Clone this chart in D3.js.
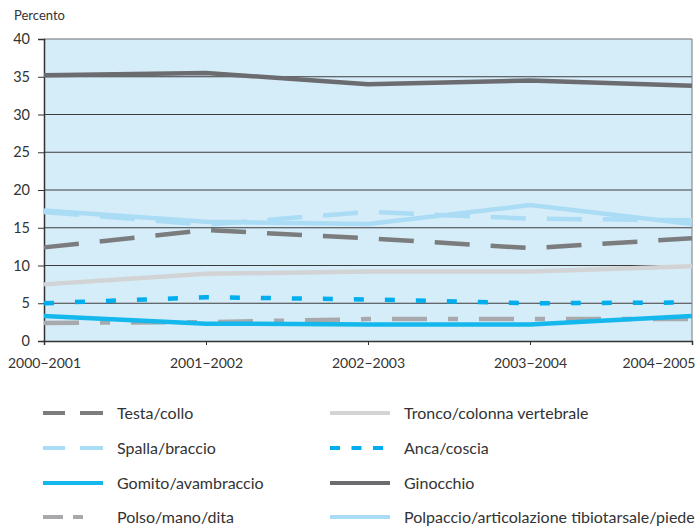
<!DOCTYPE html>
<html>
<head>
<meta charset="utf-8">
<script src="https://cdn.jsdelivr.net/npm/d3@7"></script>
<style>
  body { margin: 0; background: #fff; }
  svg text { font-family: Lato, "Open Sans", sans-serif; fill: #333; }
</style>
</head>
<body>
<svg id="chart" width="695" height="526"></svg>
<script>
const years = ['2000\u22122001', '2001\u22122002', '2002\u22122003', '2003\u22122004', '2004\u22122005'];
const yTicks = [0, 5, 10, 15, 20, 25, 30, 35, 40];

const testaCollo    = [12.4, 14.7, 13.6, 12.3, 13.6];
const spallaBraccio = [17.1, 15.4, 17.1, 16.2, 16.0];
const gomito        = [3.3, 2.3, 2.2, 2.2, 3.3];
const polso         = [2.4, 2.5, 2.9, 2.9, 2.9];
const tronco        = [7.5, 8.9, 9.2, 9.2, 9.9];
const anca          = [5.0, 5.8, 5.5, 5.0, 5.1];
const ginocchio     = [35.2, 35.5, 34.0, 34.5, 33.8];
const polpaccio     = [17.3, 15.8, 15.5, 18.0, 15.5];

const series = [
  { name: 'Testa/collo', values: testaCollo, color: '#7b7c7e', dash: '35,21', legDash: '22,15,23,100' },
  { name: 'Tronco/colonna vertebrale', values: tronco, color: '#d2d3d5', dash: null, legDash: null },
  { name: 'Spalla/braccio', values: spallaBraccio, color: '#abdcf5', dash: '35,21', legDash: '22,15,23,100' },
  { name: 'Anca/coscia', values: anca, color: '#00aeef', dash: '10,21', legDash: '10,11.5' },
  { name: 'Gomito/avambraccio', values: gomito, color: '#15b8ec', dash: null, legDash: null },
  { name: 'Ginocchio', values: ginocchio, color: '#6b6c6f', dash: null, legDash: null },
  { name: 'Polso/mano/dita', values: polso, color: '#a7a9ac', dash: '35,21,10,21', legDash: '20,10,10,100' },
  { name: 'Polpaccio/articolazione tibiotarsale/piede', values: polpaccio, color: '#abdcf5', dash: null, legDash: null }
];
// draw order (back to front)
const drawOrder = ['Tronco/colonna vertebrale', 'Polso/mano/dita', 'Gomito/avambraccio', 'Anca/coscia',
  'Testa/collo', 'Spalla/braccio', 'Polpaccio/articolazione tibiotarsale/piede', 'Ginocchio'];
const legendRows = [413, 448, 483, 517];

const svg = d3.select('#chart');
const m = { top: 39, right: 3, bottom: 185, left: 44 };
const W = 695, H = 526;
const iW = W - m.left - m.right;
const iH = H - m.top - m.bottom;

const x = d3.scalePoint().domain(years).range([0, iW]);
const y = d3.scaleLinear().domain([0, 40]).range([iH, 0]);

const g = svg.append('g').attr('transform', `translate(${m.left},${m.top})`);

g.append('rect').attr('width', iW).attr('height', iH).attr('fill', '#d5ecf9');

// grid
g.selectAll('.grid').data(yTicks.filter(d => d > 0)).join('line')
  .attr('x1', 0).attr('x2', iW)
  .attr('y1', d => y(d)).attr('y2', d => y(d))
  .attr('stroke', d => d === 40 ? '#6d6e71' : '#3c3c3c').attr('stroke-width', 1);
g.append('line').attr('x1', iW).attr('x2', iW).attr('y1', 0).attr('y2', iH)
  .attr('stroke', '#8a8b8d').attr('stroke-width', 1.2);

// y axis
g.append('g')
  .call(d3.axisLeft(y).tickValues(yTicks).tickSize(6).tickPadding(8))
  .call(ax => {
    ax.select('.domain').attr('stroke', '#333').attr('stroke-width', 1.5);
    ax.selectAll('.tick line').attr('stroke', '#333');
    ax.selectAll('text').style('font-size', '14.5px').attr('fill', '#333');
  });

// x axis
g.append('g')
  .attr('transform', `translate(0,${iH})`)
  .call(d3.axisBottom(x).tickSize(4).tickPadding(13))
  .call(ax => {
    ax.select('.domain').attr('stroke', '#333').attr('stroke-width', 1.5);
    ax.selectAll('.tick line').attr('stroke', '#333');
    ax.selectAll('text').style('font-size', '14px').attr('fill', '#333');
    ax.selectAll('.tick').filter(d => d === years[years.length - 1])
      .select('text').attr('text-anchor', 'end').attr('x', 3);
  });

svg.append('text').attr('x', 14).attr('y', 20).style('font-size', '13px').text('Percento');

const line = d3.line().x((d, i) => x(years[i])).y(d => y(d));

drawOrder.forEach(name => {
  const s = series.find(d => d.name === name);
  g.append('path')
    .datum(s.values)
    .attr('d', line)
    .attr('fill', 'none')
    .attr('stroke', s.color)
    .attr('stroke-width', 4.5)
    .attr('stroke-dasharray', s.dash);
});

// legend
const leg = svg.append('g');
series.forEach((s, i) => {
  const col = i % 2, row = Math.floor(i / 2);
  const lx = col === 0 ? 43 : 330;
  const ly = legendRows[row];
  leg.append('line')
    .attr('x1', lx).attr('x2', lx + 60)
    .attr('y1', ly).attr('y2', ly)
    .attr('stroke', s.color).attr('stroke-width', 4)
    .attr('stroke-dasharray', s.legDash);
  leg.append('text')
    .attr('x', lx + 74).attr('y', ly)
    .attr('dy', '0.35em')
    .style('font-size', '16px')
    .text(s.name);
});
</script>
</body>
</html>
